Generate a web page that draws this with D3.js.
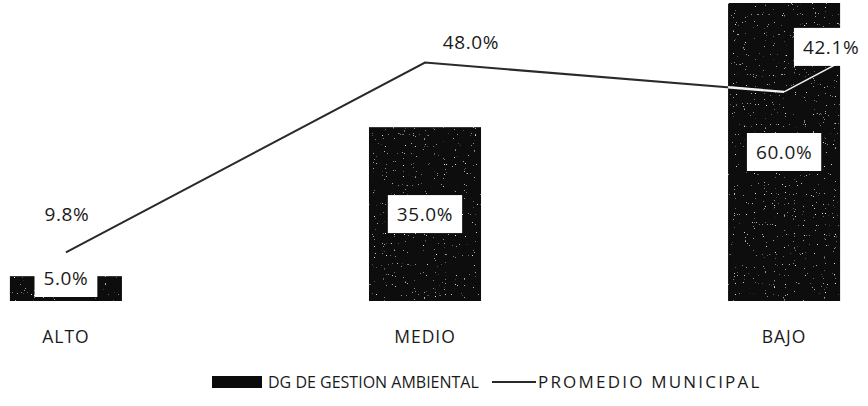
<!DOCTYPE html>
<html>
<head>
<meta charset="utf-8">
<script src="https://cdn.jsdelivr.net/npm/d3@7"></script>
<style>
  html, body { margin: 0; padding: 0; background: #fff; }
  svg { display: block; font-family: "Open Sans", "DejaVu Sans", sans-serif; }
</style>
</head>
<body>
<figure id="chart" style="margin:0"></figure>
<script>
// values
const categories = ["ALTO", "MEDIO", "BAJO"];
const dgValues = [5.0, 35.0, 60.0];        // DG DE GESTION AMBIENTAL (bars)
const promedioValues = [9.8, 48.0, 42.1];  // PROMEDIO MUNICIPAL (line)
const seriesNames = ["DG DE GESTION AMBIENTAL", "PROMEDIO MUNICIPAL"];

class ComboChart {
  constructor() {
    this.width = 868;
    this.height = 406;
    this.baseline = 301;
    this.top = 3;
    this.barColor = "#0b0b0b";
    this.textColor = "#1a1a1a";
    this.lineColor = "#2a2a2a";
    this.labelFontSize = 19;
    // manual offsets of the line labels (as placed in the original)
    this.lineLabelOffsets = [[1, -38], [46, -20], [47, -45]];
  }

  init() {
    this.svg = d3.select("figure#chart").append("svg")
      .attr("width", this.width)
      .attr("height", this.height);

    this.x = d3.scaleBand()
      .domain(categories)
      .range([-26, 876])
      .paddingInner(0.688)
      .paddingOuter(0.1);

    this.y = d3.scaleLinear()
      .domain([0, 60])
      .range([this.baseline, this.top]);

    this.addDefs();
    this.drawBars();
    this.drawLine();
    this.drawAxis();
    this.drawLegend();
  }

  // scan-like speckle on the dark bars, and a clip for the light part of the line
  addDefs() {
    const x = this.x, y = this.y;
    const defs = this.svg.append("defs");

    const f = defs.append("filter").attr("id", "speckle")
      .attr("x", 0).attr("y", 0).attr("width", 1).attr("height", 1);
    f.append("feTurbulence")
      .attr("type", "fractalNoise")
      .attr("baseFrequency", 0.9)
      .attr("numOctaves", 1)
      .attr("seed", 4)
      .attr("result", "noise");
    f.append("feColorMatrix")
      .attr("in", "noise")
      .attr("type", "matrix")
      .attr("values", "0 0 0 0 0.8  0 0 0 0 0.8  0 0 0 0 0.8  14 0 0 0 -9.9")
      .attr("result", "dots");
    f.append("feComposite")
      .attr("in", "dots").attr("in2", "SourceGraphic")
      .attr("operator", "in")
      .attr("result", "dots2");
    const m = f.append("feMerge");
    m.append("feMergeNode").attr("in", "SourceGraphic");
    m.append("feMergeNode").attr("in", "dots2");

    defs.append("clipPath").attr("id", "barClip")
      .selectAll("rect")
      .data(dgValues)
      .enter()
      .append("rect")
      .attr("x", (d, i) => x(categories[i]))
      .attr("y", (d) => y(d))
      .attr("width", x.bandwidth())
      .attr("height", (d) => y(0) - y(d));
  }

  drawBars() {
    const x = this.x, y = this.y;
    const g = this.svg.append("g");

    g.selectAll("rect.bar")
      .data(dgValues)
      .enter()
      .append("rect")
      .attr("class", "bar")
      .attr("x", (d, i) => x(categories[i]))
      .attr("y", (d) => y(d))
      .attr("width", x.bandwidth())
      .attr("height", (d) => y(0) - y(d))
      .attr("fill", this.barColor)
      .attr("filter", "url(#speckle)");
  }

  drawLine() {
    const x = this.x, y = this.y;
    const cx = (i) => x(categories[i]) + x.bandwidth() / 2;
    const self = this;

    const line = d3.line()
      .x((d, i) => cx(i))
      .y((d) => y(d));

    // dark on paper ...
    this.svg.append("path")
      .datum(promedioValues)
      .attr("d", line)
      .attr("fill", "none")
      .attr("stroke", this.lineColor)
      .attr("stroke-width", 2);
    // ... and light where it crosses the bars
    this.svg.append("path")
      .datum(promedioValues)
      .attr("d", line)
      .attr("fill", "none")
      .attr("stroke", "#f2f2f2")
      .attr("stroke-width", 2.4)
      .attr("clip-path", "url(#barClip)");

    // leader lines for labels that were moved away from their point
    promedioValues.forEach((v, i) => {
      if (v < dgValues[i]) {
        const [dx, dy] = self.lineLabelOffsets[i];
        self.svg.append("line")
          .attr("x1", cx(i)).attr("y1", y(v))
          .attr("x2", cx(i) + dx + 4).attr("y2", y(v) + dy + 18)
          .attr("stroke", "#f2f2f2")
          .attr("stroke-width", 1.6);
      }
    });

    // bar value labels in white boxes
    dgValues.forEach((v, i) => {
      let cy = (y(v) + y(0)) / 2;
      cy = Math.min(cy, y(0) - 23);
      self.addBoxLabel(cx(i), cy, v.toFixed(1) + "%", true);
    });

    // line value labels
    promedioValues.forEach((v, i) => {
      const [dx, dy] = self.lineLabelOffsets[i];
      self.addBoxLabel(cx(i) + dx, y(v) + dy, v.toFixed(1) + "%", v < dgValues[i]);
    });
  }

  addBoxLabel(x, y, label, boxed) {
    const g = this.svg.append("g");
    const t = g.append("text")
      .attr("x", x)
      .attr("y", y)
      .attr("dy", "0.36em")
      .attr("text-anchor", "middle")
      .attr("fill", this.textColor)
      .style("font-size", this.labelFontSize + "px")
      .style("letter-spacing", "0.6px")
      .text(label);
    if (boxed) {
      const bb = t.node().getBBox();
      g.insert("rect", "text")
        .attr("x", bb.x - 9)
        .attr("y", y - 19)
        .attr("width", bb.width + 18)
        .attr("height", 38)
        .attr("fill", "#fff");
    }
  }

  drawAxis() {
    const axis = d3.axisBottom(this.x).tickSize(0).tickPadding(0);
    const g = this.svg.append("g")
      .attr("transform", "translate(0," + (this.baseline + 36) + ")")
      .call(axis);
    g.select(".domain").remove();
    g.selectAll("text")
      .attr("fill", this.textColor)
      .attr("dy", "0.36em")
      .style("font-size", "17.5px")
      .style("letter-spacing", "1px")
      .style("font-family", "'Open Sans', sans-serif");
  }

  drawLegend() {
    const ly = 382;
    const g = this.svg.append("g");

    g.append("rect")
      .attr("x", 212).attr("y", ly - 6)
      .attr("width", 50).attr("height", 12)
      .attr("fill", this.barColor);
    g.append("text")
      .attr("x", 268).attr("y", ly).attr("dy", "0.36em")
      .attr("fill", this.textColor)
      .style("font-size", "16px")
      .text(seriesNames[0]);

    g.append("line")
      .attr("x1", 492).attr("x2", 536)
      .attr("y1", ly).attr("y2", ly)
      .attr("stroke", this.lineColor)
      .attr("stroke-width", 2);
    g.append("text")
      .attr("x", 538).attr("y", ly).attr("dy", "0.36em")
      .attr("fill", this.textColor)
      .style("font-size", "17px")
      .style("letter-spacing", "2.2px")
      .text(seriesNames[1]);
  }
}

const chart = new ComboChart();
chart.init();
</script>
</body>
</html>
